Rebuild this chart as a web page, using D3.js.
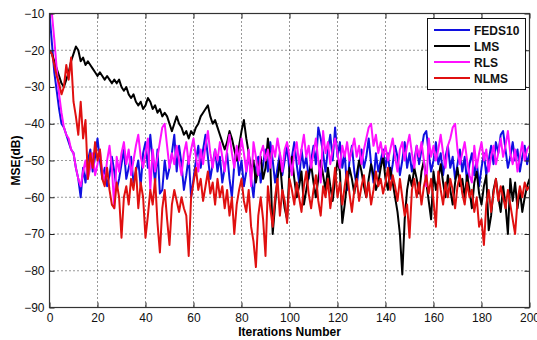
<!DOCTYPE html>
<html><head><meta charset="utf-8">
<script src="https://cdn.jsdelivr.net/npm/d3@7"></script>
<style>body{margin:0;background:#fff}svg{display:block}</style>
</head><body>
<svg id="c" width="537" height="340"></svg>
<script>
const seriesNames = ["FEDS10", "LMS", "RLS", "NLMS"];
const seriesColors = ["#1010e0", "#000000", "#ff10ff", "#e01010"];
const xTicks = [0,20,40,60,80,100,120,140,160,180,200];
const yTicks = [-10,-20,-30,-40,-50,-60,-70,-80,-90];

const feds10 = [
-10,-18,-26,-31,-36,-40,-41,-43,-45,-47,
-48,-52,-55,-60,-52,-56,-50,-47,-53,-49,
-44,-50,-55,-52,-57,-54,-49,-53,-58,-55,
-51,-47,-55,-52,-49,-56,-53,-50,-57,-48,
-45,-52,-43,-50,-56,-47,-59,-58,-50,-55,
-52,-48,-43,-53,-46,-51,-58,-54,-49,-60,
-55,-50,-46,-52,-47,-43,-49,-55,-51,-47,
-53,-49,-56,-52,-48,-55,-60,-51,-47,-54,
-50,-57,-53,-48,-55,-60,-52,-49,-56,-51,
-47,-53,-45,-50,-56,-52,-48,-54,-50,-46,
-53,-49,-45,-51,-56,-47,-52,-49,-55,-50,
-46,-51,-41,-44,-48,-53,-47,-43,-50,-41,
-49,-45,-52,-48,-58,-50,-46,-53,-57,-51,
-47,-52,-49,-44,-51,-56,-48,-53,-50,-47,
-52,-48,-55,-51,-46,-49,-54,-50,-45,-52,
-48,-53,-50,-46,-51,-47,-43,-42,-48,-53,
-50,-45,-51,-48,-54,-49,-46,-52,-49,-55,
-51,-47,-53,-49,-56,-51,-48,-54,-50,-57,
-52,-48,-54,-50,-46,-51,-45,-48,-43,-42,
-47,-52,-49,-45,-50,-47,-53,-49,-46,-51,
-48];

const lms = [
-20,-21,-23,-25,-27,-29,-30,-28,-26,-23,
-21,-19,-20,-23,-22,-24,-23,-24,-25,-26,
-27,-26,-27,-28,-27,-28,-29,-28,-29,-28,
-30,-31,-30,-32,-33,-32,-34,-35,-34,-36,
-35,-33,-34,-36,-35,-37,-36,-38,-37,-38,
-40,-42,-40,-38,-40,-41,-43,-42,-44,-42,
-43,-41,-40,-38,-37,-36,-35,-38,-40,-39,
-41,-43,-45,-47,-45,-42,-44,-47,-50,-46,
-42,-39,-44,-48,-53,-50,-56,-52,-49,-55,
-52,-44,-51,-70,-62,-55,-50,-58,-63,-66,
-52,-49,-55,-60,-57,-53,-62,-58,-54,-51,
-56,-60,-55,-50,-54,-58,-52,-57,-61,-55,
-50,-53,-67,-62,-56,-52,-55,-59,-54,-50,
-53,-57,-60,-55,-51,-54,-58,-56,-52,-49,
-55,-58,-52,-56,-60,-64,-70,-81,-66,-58,
-54,-57,-52,-55,-59,-53,-50,-56,-61,-66,
-53,-58,-55,-51,-56,-60,-54,-58,-62,-56,
-52,-57,-55,-60,-54,-58,-63,-56,-53,-59,
-62,-57,-54,-69,-65,-58,-55,-60,-64,-57,
-62,-70,-55,-61,-56,-63,-58,-64,-60,-57,
-55];

const rls = [
-10,-10,-17,-25,-32,-37,-41,-43,-44,-47,
-48,-52,-55,-57,-53,-50,-55,-52,-48,-54,
-51,-47,-53,-56,-50,-46,-52,-63,-49,-53,
-48,-45,-51,-47,-54,-50,-46,-43,-49,-52,
-48,-44,-58,-47,-53,-49,-45,-41,-40,-46,
-52,-48,-51,-46,-50,-54,-48,-45,-51,-47,
-44,-49,-53,-47,-51,-46,-42,-48,-52,-47,
-50,-45,-49,-53,-47,-43,-48,-52,-46,-50,
-44,-48,-53,-47,-57,-45,-49,-54,-48,-46,
-50,-47,-52,-46,-49,-44,-48,-53,-47,-45,
-49,-54,-48,-45,-51,-47,-43,-49,-46,-52,
-48,-44,-50,-56,-42,-48,-45,-51,-47,-44,
-48,-52,-46,-49,-45,-50,-47,-44,-49,-46,
-51,-47,-44,-41,-40,-46,-43,-48,-45,-49,
-46,-50,-47,-44,-49,-53,-47,-45,-50,-46,
-43,-48,-52,-46,-49,-45,-50,-57,-44,-49,
-46,-50,-47,-43,-48,-52,-46,-44,-41,-40,
-47,-51,-48,-45,-50,-54,-56,-46,-52,-48,
-45,-50,-47,-53,-49,-46,-51,-48,-44,-49,
-46,-42,-48,-51,-47,-53,-49,-45,-50,-47,
-46];

const nlms = [
-20,-21,-24,-27,-29,-32,-30,-24,-28,-22,
-34,-38,-43,-34,-44,-39,-55,-48,-52,-45,
-50,-47,-55,-57,-52,-58,-62,-63,-56,-60,
-71,-60,-57,-62,-55,-58,-52,-63,-56,-60,
-71,-65,-58,-62,-55,-67,-75,-63,-58,-66,
-73,-62,-58,-61,-64,-60,-63,-65,-76,-60,
-56,-52,-58,-55,-61,-57,-53,-59,-56,-62,
-55,-60,-57,-63,-58,-65,-60,-70,-62,-58,
-55,-61,-64,-58,-68,-72,-79,-65,-60,-66,
-76,-57,-63,-68,-60,-55,-65,-58,-61,-67,
-55,-58,-62,-56,-60,-64,-57,-53,-59,-63,
-58,-54,-61,-65,-57,-60,-55,-63,-58,-52,
-60,-56,-62,-57,-53,-59,-64,-58,-55,-61,
-57,-54,-60,-56,-62,-58,-53,-57,-55,-59,
-56,-52,-58,-54,-57,-61,-55,-60,-65,-62,
-71,-58,-55,-60,-56,-62,-57,-54,-59,-55,
-61,-68,-53,-58,-62,-56,-60,-55,-58,-63,
-57,-54,-59,-62,-56,-60,-58,-64,-60,-68,
-66,-73,-62,-58,-64,-59,-55,-61,-57,-60,
-63,-58,-62,-66,-70,-61,-57,-60,-56,-58,
-57];

const allSeries = [feds10, lms, rls, nlms];

const svg = d3.select("#c");
const m = {left: 49.5, right: 529.5, top: 13.5, bottom: 307.5};
const x = d3.scaleLinear().domain([0, 200]).range([m.left, m.right]);
const y = d3.scaleLinear().domain([-90, -10]).range([m.bottom, m.top]);
const font = "'Liberation Sans', Arial, sans-serif";

// grid
const grid = svg.append("g").attr("stroke", "#333").attr("stroke-width", 1).attr("stroke-dasharray", "1,3");
xTicks.slice(1, -1).forEach(t => grid.append("line").attr("x1", x(t)).attr("x2", x(t)).attr("y1", m.top).attr("y2", m.bottom));
yTicks.slice(1, -1).forEach(t => grid.append("line").attr("y1", y(t)).attr("y2", y(t)).attr("x1", m.left).attr("x2", m.right));

// lines
const line = d3.line().x((d, i) => x(i)).y(d => y(d));
svg.append("clipPath").attr("id", "pc").append("rect")
  .attr("x", m.left).attr("y", m.top).attr("width", m.right - m.left).attr("height", m.bottom - m.top);
allSeries.forEach((s, k) => {
  svg.append("path").datum(s).attr("d", line).attr("fill", "none")
    .attr("stroke", seriesColors[k]).attr("stroke-width", 2).attr("stroke-linejoin", "round")
    .attr("clip-path", "url(#pc)");
});

// axes
const xAxis = d3.axisBottom(x).tickValues(xTicks).tickSize(-5).tickPadding(6).tickFormat(d3.format("d"));
const yAxis = d3.axisLeft(y).tickValues(yTicks).tickSize(-5).tickPadding(5).tickFormat(d3.format("d"));
const gx = svg.append("g").attr("transform", `translate(0,${m.bottom})`).call(xAxis);
const gy = svg.append("g").attr("transform", `translate(${m.left},0)`).call(yAxis);
const gx2 = svg.append("g").attr("transform", `translate(0,${m.top})`).call(d3.axisTop(x).tickValues(xTicks).tickSize(-5).tickFormat(""));
const gy2 = svg.append("g").attr("transform", `translate(${m.right},0)`).call(d3.axisRight(y).tickValues(yTicks).tickSize(-5).tickFormat(""));
[gx, gy, gx2, gy2].forEach(g => {
  g.select(".domain").remove();
  g.selectAll("line").attr("stroke", "#222");
  g.selectAll("text").attr("font-family", font).attr("font-size", 12).attr("fill", "#111");
});
svg.append("rect").attr("x", m.left).attr("y", m.top).attr("width", m.right - m.left).attr("height", m.bottom - m.top)
  .attr("fill", "none").attr("stroke", "#333").attr("stroke-width", 1.2);

// labels
svg.append("text").attr("x", (m.left + m.right) / 2).attr("y", 336).attr("text-anchor", "middle")
  .attr("font-family", font).attr("font-size", 12).attr("font-weight", "bold").text("Iterations Number");
svg.append("text").attr("transform", `translate(20,${(m.top + m.bottom) / 2}) rotate(-90)`).attr("text-anchor", "middle")
  .attr("font-family", font).attr("font-size", 12).attr("font-weight", "bold").text("MSE(dB)");

// legend
const lg = svg.append("g");
lg.append("rect").attr("x", 427.5).attr("y", 18.5).attr("width", 98).attr("height", 71)
  .attr("fill", "#fff").attr("stroke", "#111").attr("stroke-width", 1);
seriesNames.forEach((n, k) => {
  const yy = 30 + k * 16;
  lg.append("line").attr("x1", 434).attr("x2", 470).attr("y1", yy).attr("y2", yy)
    .attr("stroke", seriesColors[k]).attr("stroke-width", 2);
  lg.append("text").attr("x", 474).attr("y", yy + 4.5).attr("font-family", font).attr("font-size", 12)
    .attr("font-weight", "bold").attr("fill", "#111").text(n);
});
</script>
</body></html>
